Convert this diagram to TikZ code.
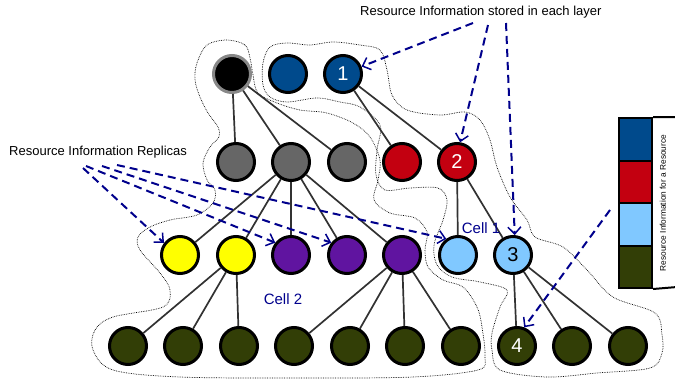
\documentclass[tikz,border=0pt]{standalone}
\usepackage{fontspec}
\setmainfont{Liberation Sans}
\usetikzlibrary{arrows.meta}
\definecolor{nblue}{RGB}{0,74,140}
\definecolor{nred}{RGB}{195,0,16}
\definecolor{ngray}{RGB}{102,102,102}
\definecolor{nyellow}{RGB}{255,255,0}
\definecolor{npurple}{RGB}{96,20,160}
\definecolor{nlblue}{RGB}{128,200,255}
\definecolor{ngreen}{RGB}{50,62,6}
\definecolor{edgec}{RGB}{50,50,50}
\definecolor{navy}{RGB}{0,0,140}
\tikzset{
  res/.style={circle,draw=black,line width=3pt,minimum size=37pt,inner sep=0pt,font=\fontsize{20}{20}\selectfont},
  tree/.style={draw=edgec,line width=1.7pt},
  hint/.style={draw=navy,line width=2pt,dash pattern=on 8pt off 5pt,-{Straight Barb[length=7pt,width=13pt,line width=1.5pt]}},
  cellline/.style={draw=black,line width=0.7pt,densely dotted},
  lbl/.style={font=\fontsize{13}{15}\selectfont,inner sep=0pt},
  celllbl/.style={text=navy,font=\fontsize{15}{17}\selectfont,inner sep=0pt}
}
\begin{document}
\begin{tikzpicture}[x=1pt,y=-1pt]
\useasboundingbox (0,0) rectangle (675,383);
% cell outlines
\draw[cellline] plot[smooth cycle,tension=0.55] coordinates {
(227,40) (245,45) (250,58) (253,75) (258,93) (277,103) (300,110) (327,113) (353,123) (370,137) (380,160) (378,180) (374,200) (390,213) (415,218) (427,232) (425,250) (428,267) (443,280) (463,287) (477,307) (482,327) (485,357) (478,370) (413,377) (300,378) (180,377) (113,370) (93,350) (95,330) (113,317) (163,307) (170,290) (160,273) (140,250) (138,237) (150,227) (170,220) (197,215) (213,203) (215,190) (207,180) (203,163) (210,147) (219,137) (218,127) (208,113) (200,97) (195,80) (197,63) (207,45)};
\draw[cellline] plot[smooth cycle,tension=0.55] coordinates {
(270,47) (287,43) (310,45) (333,42) (360,45) (380,50) (387,70) (392,95) (407,110) (440,115) (465,112) (480,120) (490,140) (497,167) (510,197) (527,220) (535,237) (563,247) (587,270) (613,297) (655,313) (662,335) (662,353) (650,368) (597,373) (547,377) (500,370) (492,350) (492,333) (500,307) (507,290) (480,282) (452,277) (437,265) (434,245) (443,220) (447,200) (438,188) (410,188) (385,190) (376,175) (377,150) (380,125) (360,107) (340,102) (317,98) (287,102) (270,97) (263,85) (263,63)};
% nodes
\node[res,fill=black,draw={rgb,255:red,136;green,136;blue,136}] (n0) at (232,74) {};
\node[res,fill=nblue] (b1) at (288,74) {};
\node[res,fill=nblue,text=white] (b2) at (343,74) {1};
\node[res,fill=ngray] (g1) at (236,162) {};
\node[res,fill=ngray] (g2) at (291,162) {};
\node[res,fill=ngray] (g3) at (347,162) {};
\node[res,fill=nred] (r1) at (402,162) {};
\node[res,fill=nred,text=white] (r2) at (457,162) {2};
\node[res,fill=nyellow] (y1) at (180,255) {};
\node[res,fill=nyellow] (y2) at (236,255) {};
\node[res,fill=npurple] (p1) at (291,255) {};
\node[res,fill=npurple] (p2) at (347,255) {};
\node[res,fill=npurple] (p3) at (402,255) {};
\node[res,fill=nlblue] (c1) at (458,255) {};
\node[res,fill=nlblue] (c2) at (513,255) {3};
\foreach \i/\x in {1/128,2/183,3/239,4/294,5/350,6/405,7/461,9/572,10/628}
  \node[res,fill=ngreen] (d\i) at (\x,346) {};
\node[res,fill=ngreen,text=white] (d8) at (517,346) {4};
% tree edges
\draw[tree] (n0) -- (g1);
\draw[tree] (n0) -- (g2);
\draw[tree] (n0) -- (g3);
\draw[tree] (b2) -- (r1);
\draw[tree] (b2) -- (r2);
\draw[tree] (g2) -- (y1);
\draw[tree] (g2) -- (y2);
\draw[tree] (g2) -- (p1);
\draw[tree] (g2) -- (p2);
\draw[tree] (g2) -- (p3);
\draw[tree] (r2) -- (c1);
\draw[tree] (r2) -- (c2);
\draw[tree] (y2) -- (d1);
\draw[tree] (y2) -- (d2);
\draw[tree] (y2) -- (d3);
\draw[tree] (p3) -- (d4);
\draw[tree] (p3) -- (d5);
\draw[tree] (p3) -- (d6);
\draw[tree] (p3) -- (d7);
\draw[tree] (c2) -- (d8);
\draw[tree] (c2) -- (d9);
\draw[tree] (c2) -- (d10);
% labels
\node[lbl,anchor=west] (toplbl) at (360,12) {Resource Information stored in each layer};
\node[lbl,anchor=west] (replbl) at (9,152) {Resource Information Replicas};
\node[celllbl] (cell1) at (481,228) {Cell 1};
\node[celllbl] (cell2) at (283,299) {Cell 2};
% hint arrows
\coordinate (t1) at (473,23);
\coordinate (t2) at (488,25);
\coordinate (t3) at (506,23);
\draw[hint] (t1) -- (b2.22);
\draw[hint] (t2) -- (r2.81);
\draw[hint] (t3) -- (c2.85);
\coordinate (s1) at (83,168);
\coordinate (s2) at (86,166);
\coordinate (s3) at (102,166);
\coordinate (s4) at (117,165);
\draw[hint] (s1) -- (y1.143);
\draw[hint] (s2) -- (p1.142);
\draw[hint] (s3) -- (p2.142);
\draw[hint] (s4) -- (c1.126);
\coordinate (lg) at (610,210);
\draw[hint] (lg) -- (d8.69);
% legend
\node[draw=black,line width=2pt,fill=nblue,minimum width=33pt,minimum height=42.5pt,inner sep=0pt,anchor=north west] (k1) at (618,117) {};
\node[draw=black,line width=2pt,fill=nred,minimum width=33pt,minimum height=42.5pt,inner sep=0pt,anchor=north west] (k2) at (618,159.5) {};
\node[draw=black,line width=2pt,fill=nlblue,minimum width=33pt,minimum height=42.5pt,inner sep=0pt,anchor=north west] (k3) at (618,202) {};
\node[draw=black,line width=2pt,fill=ngreen,minimum width=33pt,minimum height=42.5pt,inner sep=0pt,anchor=north west] (k4) at (618,244.5) {};
\draw[black,line width=2pt] (k1.north east) -- (677,117) -- (677,287) -- (k4.south east);
\node[rotate=90,font=\fontsize{8.3}{10}\selectfont,inner sep=0pt] (klbl) at (663,203) {Resource Information for a Resource};
\end{tikzpicture}
\end{document}
